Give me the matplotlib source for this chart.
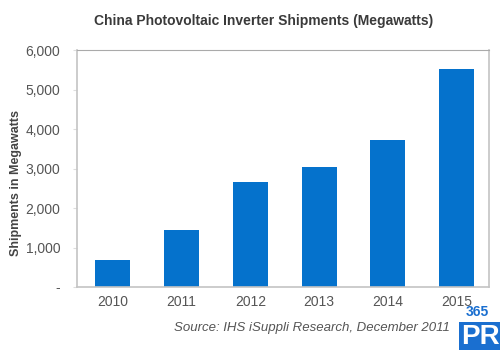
import matplotlib.pyplot as plt
from matplotlib.ticker import FuncFormatter

YEARS = ["2010", "2011", "2012", "2013", "2014", "2015"]
SHIPMENTS = [680, 1440, 2670, 3050, 3720, 5510]
Y_TICKS = [0, 1000, 2000, 3000, 4000, 5000, 6000]

BAR_COLOR = "#0572cc"
TEXT_COLOR = "#555555"

plt.rcParams["font.family"] = ["Liberation Sans", "DejaVu Sans"]

fig = plt.figure(figsize=(5, 3.5), dpi=100)
ax = fig.add_axes([0.154, 0.18, 0.824, 0.677])

ax.bar(range(len(YEARS)), SHIPMENTS, width=0.51, color=BAR_COLOR, zorder=2)

ax.set_xlim(-0.52, 5.47)
ax.set_ylim(0, 6000)
ax.set_xticks(range(len(YEARS)))
ax.set_xticklabels(YEARS)
ax.set_yticks(Y_TICKS)
ax.yaxis.set_major_formatter(FuncFormatter(lambda v, p: "-" if v == 0 else f"{v:,.0f}"))

ax.tick_params(axis="y", length=3, color="#dddddd", pad=9, labelsize=10, labelcolor=TEXT_COLOR)
ax.tick_params(axis="x", length=0, pad=6, labelsize=10, labelcolor=TEXT_COLOR)

for side in ["left", "bottom", "right"]:
    ax.spines[side].set_color("#c4c4c4")
    ax.spines[side].set_linewidth(1.2)
ax.spines["top"].set_color("#aaaaaa")
ax.spines["top"].set_linestyle((0, (1, 1)))
ax.spines["top"].set_linewidth(0.8)

fig.text(0.032, 0.477, "Shipments in Megawatts", rotation=90, ha="center", va="center",
         fontsize=9, fontweight="bold", color="#444444")

fig.text(0.528, 0.94, "China Photovoltaic Inverter Shipments (Megawatts)",
         ha="center", va="center", fontsize=10, fontweight="bold", color="#3a3a3a")

fig.text(0.9, 0.063, "Source: IHS iSuppli Research, December 2011",
         ha="right", va="center", fontsize=9.5, style="italic", color=TEXT_COLOR)

# logo corner
fig.text(0.955, 0.108, "365", ha="center", va="center", fontsize=10,
         fontweight="bold", color="#1a6fd0")
fig.text(0.96, 0.038, "PR", ha="center", va="center", fontsize=20,
         fontweight="bold", color="white",
         bbox=dict(boxstyle="square,pad=0.05", facecolor="#1a6fd0", edgecolor="none"))

fig.savefig("out.png", dpi=100)
